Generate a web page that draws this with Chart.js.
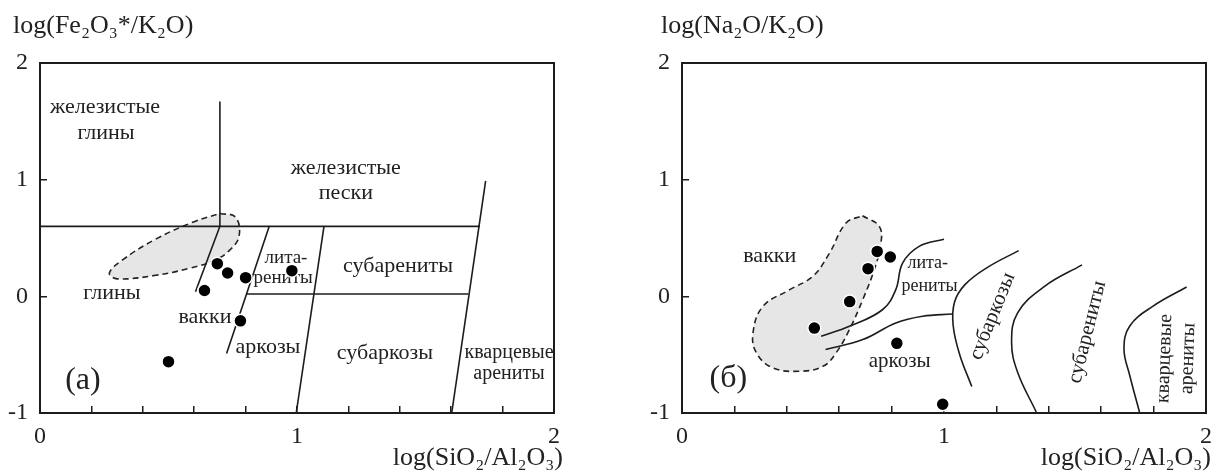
<!DOCTYPE html>
<html>
<head>
<meta charset="utf-8">
<title>Классификационные диаграммы</title>
<script src="https://cdn.jsdelivr.net/npm/chart.js@4.4.0/dist/chart.umd.min.js"></script>
<style>
  body { margin: 0; background: #fff; }
  #wrap { display: flex; width: 1228px; height: 473px; }
  canvas { display: block; }
</style>
</head>
<body>
<div id="wrap">
  <canvas id="chartA" width="614" height="473"></canvas>
  <canvas id="chartB" width="614" height="473"></canvas>
</div>
<script>
// ---- data: (a) log(Fe2O3*/K2O) vs log(SiO2/Al2O3)
var feSampleX = [0.69, 0.73, 0.80, 0.98, 0.64, 0.78, 0.50];
var feSampleY = [0.28, 0.20, 0.16, 0.22, 0.05, -0.21, -0.56];
var feField = [[0.70, 0.71], [0.76, 0.68], [0.775, 0.52], [0.74, 0.40], [0.68, 0.31], [0.58, 0.24],
               [0.45, 0.18], [0.30, 0.15], [0.27, 0.20], [0.32, 0.31], [0.45, 0.49], [0.60, 0.64], [0.70, 0.71]];
var feBounds = [
  [[0, 0.60], [1.712, 0.60]],
  [[0.70, 0.60], [0.70, 1.67]],
  [[0.70, 0.60], [0.605, 0.04]],
  [[0.892, 0.60], [0.726, -0.49]],
  [[0.805, 0.02], [1.667, 0.02]],
  [[1.105, 0.60], [0.997, -1]],
  [[1.734, 0.99], [1.602, -1]]
];
var feLabels = [
  { text: 'железистые', x: 0.253, y: 1.62 },
  { text: 'глины', x: 0.257, y: 1.40 },
  { text: 'железистые', x: 1.19, y: 1.10 },
  { text: 'пески', x: 1.19, y: 0.885 },
  { text: 'лита-', x: 0.957, y: 0.33, size: 19 },
  { text: 'рениты', x: 0.946, y: 0.158, size: 19 },
  { text: 'субарениты', x: 1.393, y: 0.26 },
  { text: 'глины', x: 0.28, y: 0.03 },
  { text: 'вакки', x: 0.642, y: -0.178 },
  { text: 'аркозы', x: 0.887, y: -0.435 },
  { text: 'субаркозы', x: 1.342, y: -0.49 },
  { text: 'кварцевые', x: 1.825, y: -0.484, size: 20 },
  { text: 'арениты', x: 1.825, y: -0.666, size: 20 },
  { text: '(а)', x: 0.167, y: -0.72, size: 32 }
];

// ---- data: (б) log(Na2O/K2O) vs log(SiO2/Al2O3)
var naSampleX = [0.745, 0.795, 0.71, 0.64, 0.505, 0.82, 0.995];
var naSampleY = [0.385, 0.337, 0.237, -0.045, -0.272, -0.403, -0.925];
var naField = [[0.689, 0.691], [0.753, 0.60], [0.759, 0.45], [0.734, 0.229], [0.690, -0.028], [0.639, -0.285],
               [0.588, -0.485], [0.538, -0.60], [0.449, -0.642], [0.347, -0.613], [0.284, -0.485], [0.271, -0.313],
               [0.309, -0.086], [0.411, 0.057], [0.499, 0.171], [0.563, 0.371], [0.626, 0.628], [0.689, 0.691]];
var naBounds = [
  [[0.531, -0.343], [0.639, -0.257], [0.765, -0.115], [0.816, 0.057], [0.842, 0.285], [0.905, 0.428], [1.0, 0.49]],
  [[0.548, -0.456], [0.690, -0.371], [0.816, -0.228], [0.918, -0.171], [1.032, -0.152]],
  [[1.106, -0.773], [1.06, -0.50], [1.035, -0.25], [1.04, -0.05], [1.08, 0.10], [1.16, 0.24], [1.285, 0.392]],
  [[1.527, 0.270], [1.384, 0.086], [1.281, -0.141], [1.258, -0.396], [1.281, -0.651], [1.352, -0.991]],
  [[1.926, 0.080], [1.798, -0.084], [1.709, -0.254], [1.687, -0.452], [1.709, -0.679], [1.746, -0.991]]
];
var naLabels = [
  { text: 'вакки', x: 0.335, y: 0.34 },
  { text: 'лита-', x: 0.938, y: 0.28, size: 18 },
  { text: 'рениты', x: 0.945, y: 0.083, size: 18 },
  { text: 'аркозы', x: 0.831, y: -0.557, size: 21 },
  { text: 'субаркозы', x: 1.185, y: -0.171, rot: -68, size: 21 },
  { text: 'субарениты', x: 1.547, y: -0.307, rot: -76, size: 21 },
  { text: 'кварцевые', x: 1.842, y: -0.533, rot: -88, size: 20 },
  { text: 'арениты', x: 1.931, y: -0.533, rot: -88, size: 20 },
  { text: '(б)', x: 0.177, y: -0.705, size: 32 }
];

var xTickLabels = ['0', '1', '2'];
var yTickLabels = ['-1', '0', '1', '2'];

var SERIF = '"Liberation Serif", "Times New Roman", serif';
var INK = '#1c1c1c';

function pts(list) {
  return list.map(function (p) { return { x: p[0], y: p[1] }; });
}

// region names, drawn under the datasets so dots cover them
var regionText = {
  id: 'regionText',
  beforeDatasetsDraw: function (chart, args, opts) {
    var c = chart.ctx, sx = chart.scales.x, sy = chart.scales.y;
    c.save();
    c.fillStyle = '#222';
    c.textAlign = 'center';
    c.textBaseline = 'middle';
    opts.items.forEach(function (t) {
      c.save();
      c.translate(sx.getPixelForValue(t.x), sy.getPixelForValue(t.y));
      if (t.rot) c.rotate(t.rot * Math.PI / 180);
      c.font = (t.size || 22) + 'px ' + SERIF;
      c.fillText(t.text, 0, 0);
      c.restore();
    });
    c.restore();
  }
};

// closed frame + horizontal axis titles
var frame = {
  id: 'frame',
  afterDraw: function (chart, args, opts) {
    var c = chart.ctx, a = chart.chartArea;
    c.save();
    c.strokeStyle = INK;
    c.lineWidth = 2;
    c.strokeRect(a.left, a.top, a.right - a.left, a.bottom - a.top);
    c.fillStyle = '#222';
    c.font = '26px ' + SERIF;
    c.textBaseline = 'alphabetic';
    c.textAlign = 'left';
    c.fillText(opts.yTitle, a.left + opts.yTitleDx, 33);
    c.textAlign = 'right';
    c.fillText(opts.xTitle, a.right + opts.xTitleDx, 465);
    c.restore();
  }
};

function buildChart(id, o) {
  var datasets = [{
    data: o.sx.map(function (x, i) { return { x: x, y: o.sy[i] }; }),
    pointRadius: 6.5,
    pointBackgroundColor: '#000',
    pointBorderColor: '#fff',
    pointBorderWidth: 1.5,
    showLine: false,
    order: 0
  }];
  o.bounds.forEach(function (b) {
    datasets.push({
      data: pts(b),
      showLine: true,
      pointRadius: 0,
      borderColor: INK,
      borderWidth: 1.6,
      tension: b.length > 2 ? 0.4 : 0,
      order: 1
    });
  });
  datasets.push({
    data: pts(o.field),
    showLine: true,
    pointRadius: 0,
    borderColor: '#222',
    borderWidth: 1.6,
    borderDash: [6, 4],
    backgroundColor: '#e6e6e6',
    fill: 'shape',
    tension: 0.4,
    order: 2
  });

  return new Chart(document.getElementById(id), {
    type: 'scatter',
    data: { datasets: datasets },
    options: {
      responsive: false,
      animation: false,
      layout: { padding: { left: 0, top: 63, right: o.padRight, bottom: 0 } },
      plugins: {
        legend: { display: false },
        tooltip: { enabled: false },
        regionText: { items: o.labels },
        frame: { xTitle: 'log(SiO₂/Al₂O₃)', yTitle: o.yTitle, xTitleDx: o.xTitleDx, yTitleDx: o.yTitleDx }
      },
      scales: {
        x: {
          type: 'linear', min: 0, max: 2,
          afterFit: function (s) { s.height = 60; },
          border: { display: true, color: INK, width: 2 },
          grid: { drawOnChartArea: false, drawTicks: true, tickLength: -7, color: INK, lineWidth: 1.5 },
          ticks: {
            stepSize: 0.2, autoSkip: false, maxRotation: 0, padding: 16,
            color: '#222', font: { family: SERIF, size: 24 },
            callback: function (v) {
              var r = Math.round(v);
              return Math.abs(v - r) < 1e-6 ? xTickLabels[r] : '';
            }
          }
        },
        y: {
          type: 'linear', min: -1, max: 2,
          afterFit: function (s) { s.width = o.yWidth; },
          border: { display: true, color: INK, width: 2 },
          grid: { drawOnChartArea: false, drawTicks: true, tickLength: -7, color: INK, lineWidth: 1.5 },
          ticks: {
            stepSize: 1, autoSkip: false, padding: 19,
            color: '#222', font: { family: SERIF, size: 24 },
            callback: function (v) { return yTickLabels[Math.round(v) + 1]; }
          }
        }
      }
    },
    plugins: [regionText, frame]
  });
}

buildChart('chartA', {
  sx: feSampleX, sy: feSampleY, field: feField, bounds: feBounds, labels: feLabels,
  yTitle: 'log(Fe₂O₃*/K₂O)', yTitleDx: -27, xTitleDx: 9, yWidth: 40, padRight: 60
});
buildChart('chartB', {
  sx: naSampleX, sy: naSampleY, field: naField, bounds: naBounds, labels: naLabels,
  yTitle: 'log(Na₂O/K₂O)', yTitleDx: -21, xTitleDx: 5, yWidth: 68, padRight: 20
});
</script>
</body>
</html>
